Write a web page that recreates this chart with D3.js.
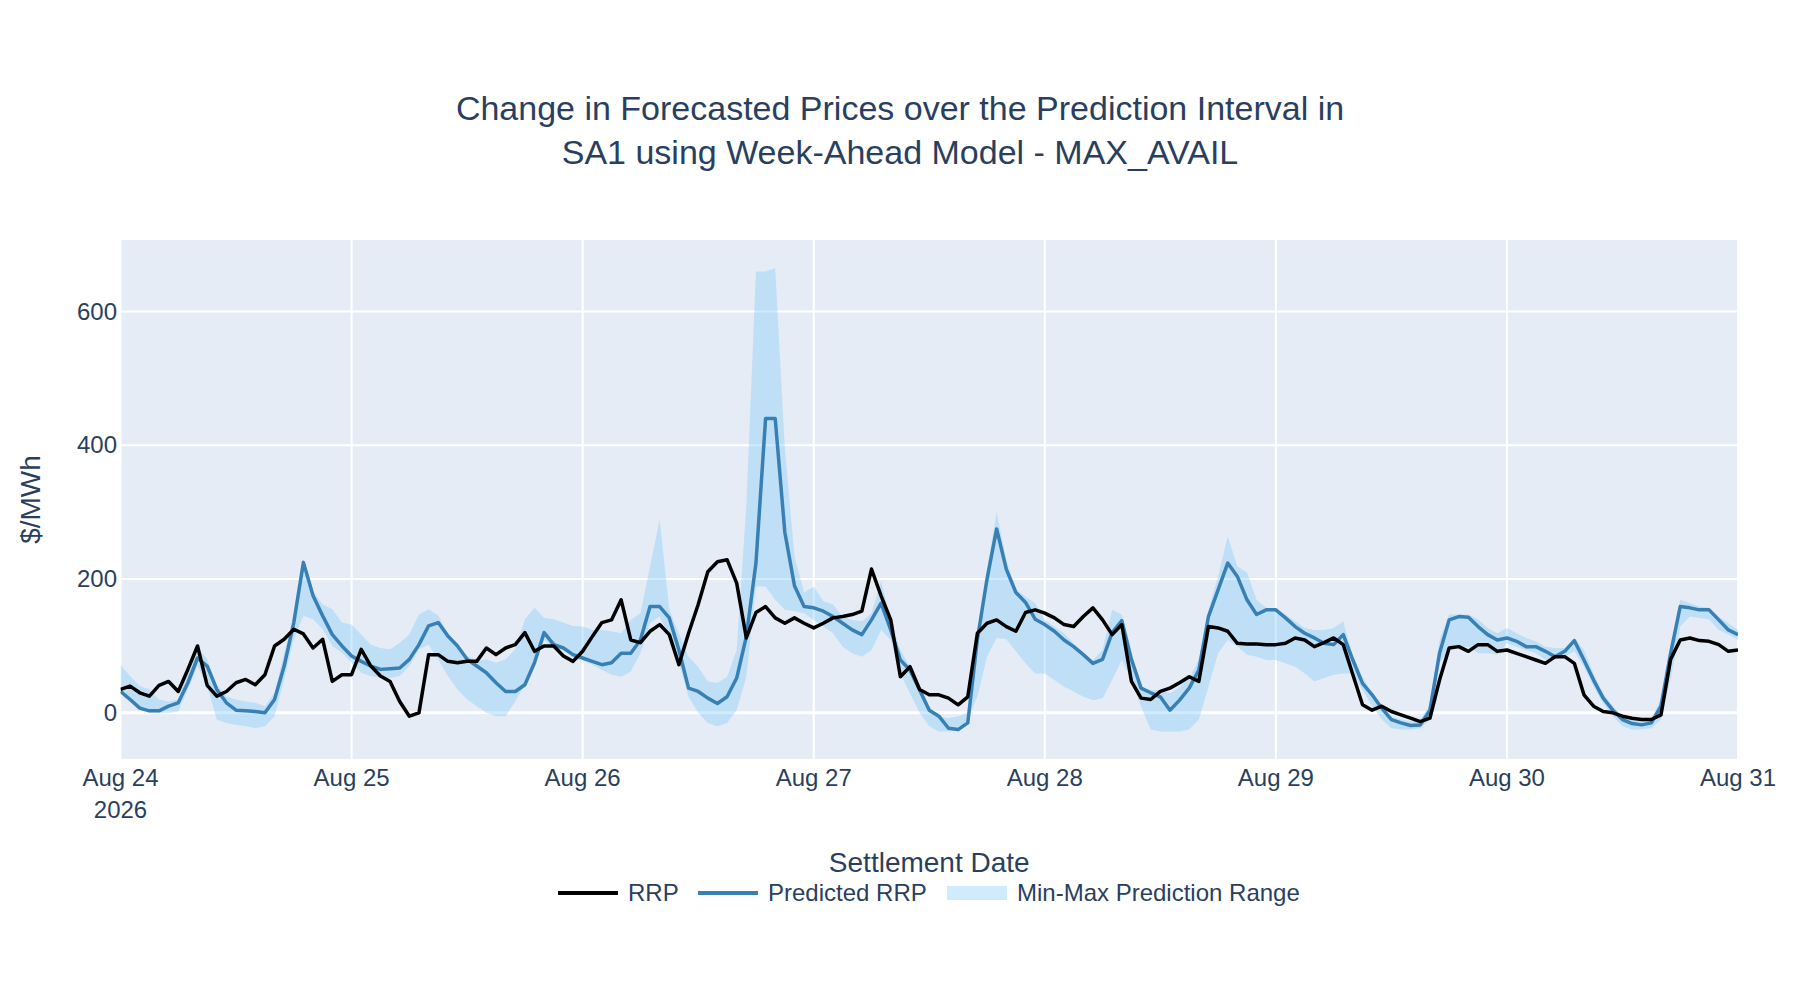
<!DOCTYPE html>
<html>
<head>
<meta charset="utf-8">
<script src="https://cdn.jsdelivr.net/npm/d3@7"></script>
<style>
  body { margin: 0; background: #fff; }
  text { font-family: "Liberation Sans", Arial, sans-serif; fill: #2a3f5f; }
</style>
</head>
<body>
<svg id="chart" width="1800" height="1000"></svg>
<script>
// hourly values, Aug 24 00:00 to Aug 31 00:00
var rrp = [
  35,40,30,25,41,47,32,65,100,41,25,32,45,50,42,57,100,110,125,118,97,110,47,57,
  57,95,70,55,47,17,-5,0,87,87,77,75,77,77,97,87,97,102,120,92,100,100,85,77,
  92,114,135,139,169,109,105,122,132,117,72,119,162,211,226,229,194,112,150,159,142,134,142,134,
  127,134,142,144,147,152,215,175,139,54,69,35,27,27,22,12,24,119,134,139,129,122,150,154,
  149,142,132,129,144,157,139,117,132,47,22,20,32,37,45,54,47,129,127,122,104,103,103,102,
  102,104,112,109,99,105,112,102,57,12,4,10,2,-3,-8,-13,-8,49,97,99,92,102,102,92,
  94,89,84,79,74,84,84,74,27,10,2,0,-5,-8,-10,-10,-3,80,109,112,108,107,102,92,
  94
];
var predicted = [
  32,20,7,3,3,10,15,45,82,70,35,15,4,3,2,0,20,70,135,225,175,145,117,100,
  85,77,70,65,66,67,80,102,130,135,115,100,80,70,60,45,32,32,42,75,120,102,97,87,
  82,77,72,75,89,89,109,159,159,142,94,37,32,22,14,24,52,114,224,440,440,270,190,159,
  157,152,144,134,124,117,139,164,124,79,64,34,4,-5,-23,-25,-15,110,200,275,215,180,165,140,
  132,122,109,99,87,74,80,120,138,80,37,30,24,4,19,37,64,144,184,224,204,169,147,154,
  154,142,129,119,112,104,102,117,79,44,27,7,-10,-15,-19,-18,4,89,139,144,143,129,117,109,
  112,107,99,99,92,84,92,108,79,49,22,4,-10,-16,-18,-15,10,89,159,157,154,154,139,124,
  117
];
var rangeMax = [
  72,55,40,35,20,17,20,65,97,80,42,25,20,17,15,10,30,90,145,225,182,162,155,135,
  132,117,102,97,95,105,117,147,155,145,120,100,85,77,80,75,80,95,140,157,142,140,135,130,
  129,124,124,122,119,139,149,219,289,154,119,84,69,47,45,54,94,310,660,660,665,396,234,180,
  189,167,162,144,139,137,149,197,139,94,69,39,10,-5,-8,-5,0,110,214,300,229,184,174,164,
  139,129,119,104,84,79,94,154,147,84,39,34,34,29,39,52,79,154,204,264,219,210,169,157,
  154,147,137,127,124,124,127,137,84,54,29,10,-5,-10,-13,-10,12,109,147,147,147,140,127,119,
  127,119,112,107,99,97,97,112,94,59,29,10,-5,-10,-10,-8,20,99,169,164,159,157,144,134,
  124
];
var rangeMin = [
  30,17,5,0,0,0,2,35,70,40,-10,-15,-18,-20,-23,-20,-5,50,110,145,140,125,100,90,
  75,60,55,52,52,55,70,95,102,80,55,35,20,10,0,-5,-5,17,42,70,110,95,95,82,
  78,72,64,57,54,62,89,134,144,114,74,24,0,-15,-20,-15,4,54,189,189,169,154,152,149,
  139,129,119,99,89,84,94,124,109,59,29,0,-20,-28,-28,-25,-10,24,84,112,110,92,74,59,
  59,49,39,32,24,19,22,49,79,49,9,-25,-28,-28,-28,-25,-10,39,89,109,99,87,84,79,
  79,74,69,59,47,52,57,59,59,34,10,-10,-23,-25,-25,-23,-10,74,94,97,99,89,89,87,
  104,99,94,89,79,79,84,92,69,39,14,-5,-20,-25,-25,-23,-10,49,129,144,142,140,124,117,
  109
];
var yTicks = [0, 200, 400, 600];

var svg = d3.select("#chart");
var plotLeft = 120.5, plotRight = 1738, plotTop = 240, plotBottom = 759;

var start = new Date(Date.UTC(2026, 7, 24));
var times = rrp.map(function(d, i) { return new Date(start.getTime() + i * 3600000); });

var x = d3.scaleUtc().domain([start, new Date(Date.UTC(2026, 7, 31))]).range([plotLeft, plotRight]);
var y = d3.scaleLinear().domain([-69, 707]).range([plotBottom, plotTop]);

svg.append("rect").attr("x", plotLeft).attr("y", plotTop)
  .attr("width", plotRight - plotLeft).attr("height", plotBottom - plotTop).attr("fill", "#e5ecf6");

svg.append("clipPath").attr("id", "clip").append("rect")
  .attr("x", plotLeft).attr("y", plotTop)
  .attr("width", plotRight - plotLeft).attr("height", plotBottom - plotTop);

var dayTicks = x.ticks(d3.utcDay.every(1));

// grid
svg.append("g").selectAll("line").data(dayTicks).enter().append("line")
  .attr("x1", function(d) { return x(d); }).attr("x2", function(d) { return x(d); })
  .attr("y1", plotTop).attr("y2", plotBottom)
  .attr("stroke", "#fff").attr("stroke-width", 2);
svg.append("g").selectAll("line").data(yTicks).enter().append("line")
  .attr("x1", plotLeft).attr("x2", plotRight)
  .attr("y1", function(d) { return y(d); }).attr("y2", function(d) { return y(d); })
  .attr("stroke", "#fff").attr("stroke-width", function(d) { return d === 0 ? 3 : 2; });

var plot = svg.append("g").attr("clip-path", "url(#clip)");

var band = d3.area()
  .x(function(d, i) { return x(times[i]); })
  .y0(function(d, i) { return y(rangeMin[i]); })
  .y1(function(d) { return y(d); });
plot.append("path").datum(rangeMax).attr("d", band)
  .attr("fill", "rgba(135,206,250,0.4)");

var line = d3.line()
  .x(function(d, i) { return x(times[i]); })
  .y(function(d) { return y(d); });
plot.append("path").datum(predicted).attr("d", line)
  .attr("fill", "none").attr("stroke", "#3680b5").attr("stroke-width", 3.5)
  .attr("stroke-linejoin", "round");
plot.append("path").datum(rrp).attr("d", line)
  .attr("fill", "none").attr("stroke", "#000").attr("stroke-width", 3.5)
  .attr("stroke-linejoin", "round");

// axes labels
var fmt = d3.utcFormat("%b %-d");
svg.append("g").selectAll("text").data(dayTicks).enter().append("text")
  .attr("x", function(d) { return x(d); }).attr("y", 786)
  .attr("text-anchor", "middle").attr("font-size", 24)
  .text(function(d) { return fmt(d); });
svg.append("text").attr("x", x(dayTicks[0])).attr("y", 818)
  .attr("text-anchor", "middle").attr("font-size", 24).text("2026");

svg.append("g").selectAll("text").data(yTicks).enter().append("text")
  .attr("x", 117).attr("y", function(d) { return y(d) + 8; })
  .attr("text-anchor", "end").attr("font-size", 24)
  .text(function(d) { return d; });

svg.append("text").attr("transform", "translate(40," + ((plotTop + plotBottom) / 2) + ") rotate(-90)")
  .attr("text-anchor", "middle").attr("font-size", 28).text("$/MWh");
svg.append("text").attr("x", (plotLeft + plotRight) / 2).attr("y", 872)
  .attr("text-anchor", "middle").attr("font-size", 28).text("Settlement Date");

// title
svg.append("text").attr("x", 900).attr("y", 120)
  .attr("text-anchor", "middle").attr("font-size", 34)
  .text("Change in Forecasted Prices over the Prediction Interval in");
svg.append("text").attr("x", 900).attr("y", 164)
  .attr("text-anchor", "middle").attr("font-size", 34)
  .text("SA1 using Week-Ahead Model - MAX_AVAIL");

// legend
var legend = [
  { name: "RRP", x: 558, kind: "line", color: "#000" },
  { name: "Predicted RRP", x: 698, kind: "line", color: "#3680b5" },
  { name: "Min-Max Prediction Range", x: 947, kind: "band", color: "rgba(135,206,250,0.4)" }
];
var lg = svg.append("g").selectAll("g").data(legend).enter().append("g")
  .attr("transform", function(d) { return "translate(" + d.x + ",893)"; });
lg.each(function(d) {
  var g = d3.select(this);
  if (d.kind === "line") {
    g.append("line").attr("x1", 0).attr("x2", 60).attr("y1", 0).attr("y2", 0)
      .attr("stroke", d.color).attr("stroke-width", 4);
  } else {
    g.append("rect").attr("x", 0).attr("y", -7).attr("width", 60).attr("height", 14)
      .attr("fill", d.color);
  }
  g.append("text").attr("x", 70).attr("y", 8).attr("font-size", 24).text(d.name);
});
</script>
</body>
</html>
